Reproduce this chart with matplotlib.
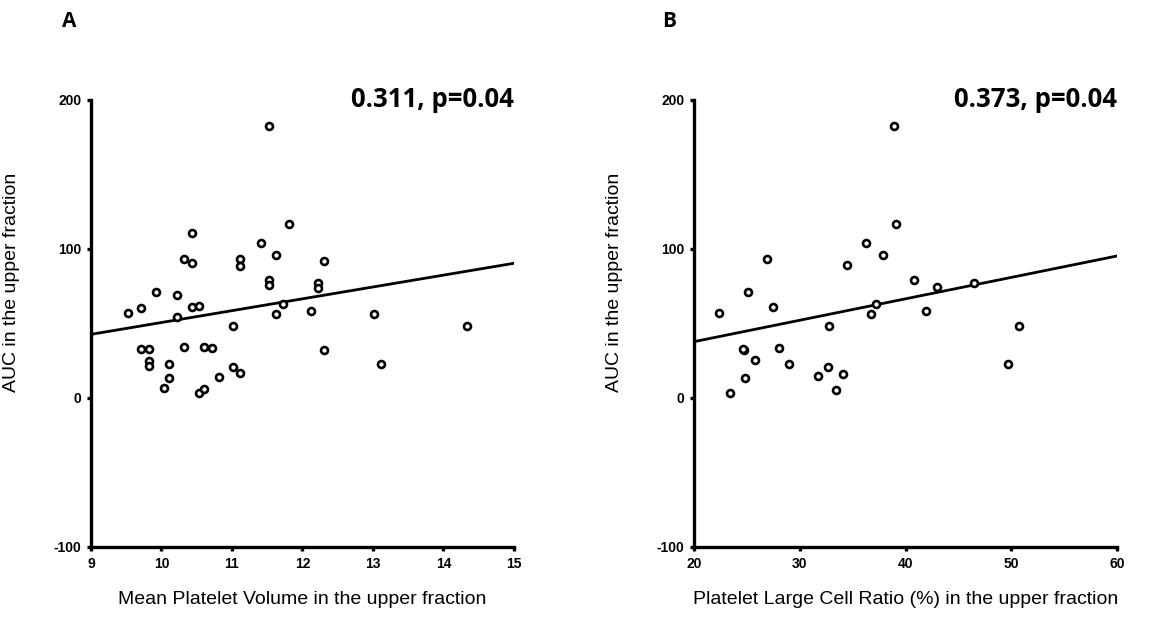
import numpy as np
import matplotlib.pyplot as plt

# Panel A: Mean Platelet Volume vs AUC
mpv = [9.53, 9.71, 9.92, 10.22, 10.22, 10.43, 10.32, 10.43, 10.43, 10.53,
       9.71, 9.82, 9.82, 9.82, 10.11, 10.11, 10.03, 10.32, 10.53, 10.61,
       10.61, 10.72, 10.82, 11.01, 11.01, 11.12, 11.12, 11.12, 11.41, 11.81,
       11.62, 11.52, 11.52, 11.62, 11.73, 12.12, 12.22, 12.22, 12.31, 12.31,
       13.02, 13.11, 14.33, 11.52]
auc_a = [57.2, 60.2, 71.3, 69.1, 54.6, 110.5, 93.1, 90.8, 61.3, 62.0,
         32.7, 32.7, 25.0, 21.5, 22.6, 13.2, 6.5, 34.5, 3.6, 5.8,
         34.5, 33.3, 14.3, 48.3, 20.6, 16.6, 93.1, 88.8, 103.8, 116.8,
         96.0, 79.2, 75.8, 56.4, 63.1, 58.4, 77.0, 73.6, 91.9, 32.2,
         56.4, 22.6, 48.3, 182.6]
fit_a = (42.7, 90.4)   # line value at x = 9 and x = 15

# Panel B: Platelet Large Cell Ratio vs AUC
plcr = [22.4, 25.08, 26.87, 27.5, 24.76, 24.6, 25.8, 24.8, 23.4, 28.0,
        29.0, 31.7, 32.7, 34.06, 33.4, 32.8, 34.47, 36.3, 37.84, 39.1,
        37.2, 36.7, 40.77, 42.98, 41.97, 46.5, 50.7, 49.7, 38.94]
auc_b = [57.2, 71.3, 93.1, 61.3, 32.2, 32.6, 25.3, 13.2, 3.6, 33.3,
         22.6, 14.8, 20.6, 16.3, 5.6, 48.3, 89.0, 103.8, 96.0, 116.8,
         63.3, 56.4, 79.0, 74.3, 58.4, 77.4, 48.3, 22.6, 182.6]
fit_b = (37.8, 95.3)   # line value at x = 20 and x = 60

plt.rcParams['font.family'] = ['Liberation Sans', 'DejaVu Sans']
plt.rcParams['axes.unicode_minus'] = False

fig = plt.figure(figsize=(11.5, 6.28), dpi=100)
panels = [
    (0.0791, mpv, auc_a, fit_a, (9, 15), range(9, 16),
     'Mean Platelet Volume in the upper fraction', '0.311, p=0.04', 'A', 0.060),
    (0.6035, plcr, auc_b, fit_b, (20, 60), range(20, 61, 10),
     'Platelet Large Cell Ratio (%) in the upper fraction', '0.373, p=0.04', 'B', 0.582),
]

for left, xs, ys, fit, xlim, xticks, xlabel, stat, tag, tagx in panels:
    ax = fig.add_axes([left, 0.129, 0.3678, 0.7118])
    ax.plot(xlim, fit, color='black', lw=2, zorder=2)
    ax.plot(xs, ys, 'o', ms=5, mfc='white', mec='black', mew=1.9, zorder=3)
    ax.set_xlim(*xlim)
    ax.set_ylim(-100, 200)
    ax.set_xticks(list(xticks))
    ax.set_yticks([-100, 0, 100, 200])
    for s in ['top', 'right']:
        ax.spines[s].set_visible(False)
    for s in ['left', 'bottom']:
        ax.spines[s].set_linewidth(2.4)
    ax.tick_params(length=3, width=2.4, labelsize=10, pad=4)
    for lab in ax.get_xticklabels() + ax.get_yticklabels():
        lab.set_fontweight('bold')
    ax.set_xlabel(xlabel, fontsize=14)
    ax.set_ylabel('AUC in the upper fraction', fontsize=14)
    ax.xaxis.set_label_coords(0.5, -0.098)
    ax.yaxis.set_label_coords(-0.168, 0.593)
    ax.text(1.0, 1.0, stat, transform=ax.transAxes, ha='right', va='center',
            fontsize=18.5, fontweight='bold', family=['Open Sans', 'DejaVu Sans'])
    fig.text(tagx, 0.965, tag, ha='center', va='center', fontsize=15,
             fontweight='bold', family=['Open Sans', 'DejaVu Sans'])

fig.savefig('out.png', dpi=100)
